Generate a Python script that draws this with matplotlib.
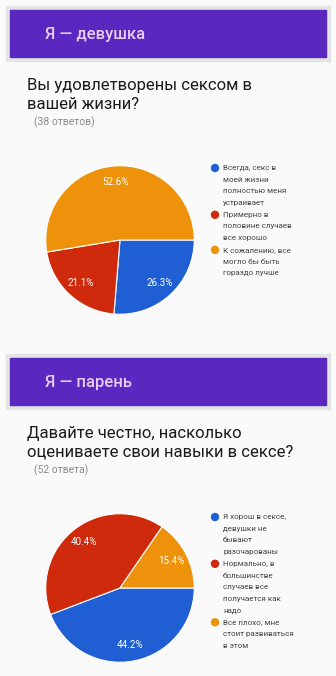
import matplotlib.pyplot as plt
from matplotlib.patches import Rectangle, Ellipse

# Data
q1_title = 'Вы удовлетворены сексом в\nвашей жизни?'
q1_count = '(38 ответов)'
q1_labels = ['Всегда, секс в\nмоей жизни\nполностью меня\nустраивает',
             'Примерно в\nполовине случаев\nвсе хорошо',
             'К сожалению, все\nмогло бы быть\nгораздо лучше']
q1_values = [26.3, 21.1, 52.6]

q2_title = 'Давайте честно, насколько\nоцениваете свои навыки в сексе?'
q2_count = '(52 ответа)'
q2_labels = ['Я хорош в сексе,\nдевушки не\nбывают\nразочарованы',
             'Нормально, в\nбольшинстве\nслучаев все\nполучается как\nнадо',
             'Все плохо, мне\nстоит развиваться\nв этом']
q2_values = [44.2, 40.4, 15.4]

colors = ['#1f5fd3', '#cf2a0c', '#ee920b']

W, H = 336, 676
plt.rcParams['font.family'] = ['Roboto', 'DejaVu Sans']
fig = plt.figure(figsize=(W / 100, H / 100), dpi=100)
fig.patch.set_facecolor('#fafafa')


def px(x, y):
    return x / W, 1 - y / H


def section(top, header, title, count, labels, values, legend_y):
    # purple header banner with a light grey frame
    fig.patches.append(Rectangle(px(6, top + 51), 324 / W, 55 / H,
                                 transform=fig.transFigure, color='#e4e4e4', zorder=0))
    fig.patches.append(Rectangle(px(10, top + 47), 316 / W, 47 / H,
                                 transform=fig.transFigure, color='#5a28c0', zorder=1))
    fig.text(*px(45, top + 25), header, color='#e6cfee', fontsize=12,
             fontweight='medium', va='center', ha='left')
    fig.text(*px(27, top + 68), title, color='#1a1a1a', fontsize=12,
             va='top', ha='left', linespacing=1.3)
    fig.text(*px(34, top + 112), count, color='#8a8a8a', fontsize=7.5,
             va='center', ha='left')

    # pie
    cy = top + 230
    ax = fig.add_axes([45 / W, 1 - (cy + 75) / H, 150 / W, 150 / H])
    ax.pie(values, colors=colors, startangle=0, counterclock=False,
           autopct='%1.1f%%', pctdistance=0.78, radius=1,
           wedgeprops=dict(edgecolor='white', linewidth=0.8),
           textprops=dict(color='white', fontsize=7))
    ax.set_xlim(-1.01, 1.01)
    ax.set_ylim(-1.01, 1.01)
    ax.set_aspect('equal')

    # legend, one text per line so the pitch matches the form
    y = legend_y
    for lab, c in zip(labels, colors):
        fig.add_artist(Ellipse(px(215, y), 7 / W, 7 / H, transform=fig.transFigure,
                               color=c))
        for line in lab.split('\n'):
            fig.text(*px(223, y), line, fontsize=5.8, color='#444444',
                     va='center', ha='left')
            y += 11.7


section(10, 'Я — девушка', q1_title, q1_count, q1_labels, q1_values, 168)
section(358, 'Я — парень', q2_title, q2_count, q2_labels, q2_values, 517)

fig.savefig('out.png', dpi=100)
